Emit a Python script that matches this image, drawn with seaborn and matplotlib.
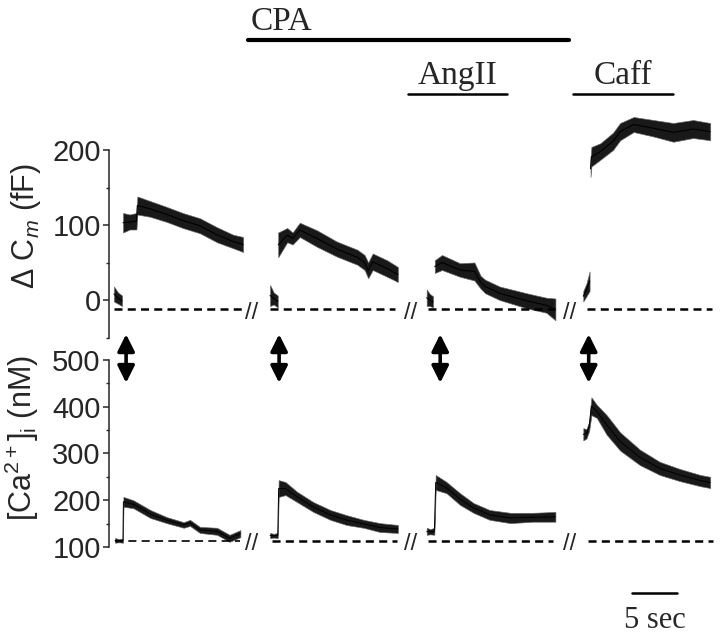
import numpy as np
import pandas as pd
import matplotlib
matplotlib.use("Agg")
import matplotlib.pyplot as plt
import matplotlib.transforms as mtransforms
from matplotlib.patches import FancyArrowPatch
import seaborn as sns

# ---- data (time in s, envelope low/high of the noisy trace) ----
# capacitance, fF  (baseline pieces and responses are drawn apart)
cm_base_t = [[0.55, 1.0, 1.45], [17.9, 18.3, 18.75], [35.3, 35.65, 36.0], [52.7, 53.05, 53.4]]
cm_base_lo = [[-2, -5, -8], [-8, -6, -10], [-8, -8, -10], [-2, 5, 12]]
cm_base_hi = [[18, 10, 6], [20, 10, 6], [14, 8, 5], [12, 22, 38]]

cm1_t = [1.56, 2.3, 3.05, 3.15, 4.56, 6.44, 8.2, 10.1, 12.0, 13.8, 14.9]
cm1_lo = [90, 94, 94, 114, 111, 104, 96, 89, 77, 69, 64]
cm1_hi = [116, 114, 116, 138, 132, 124, 116, 109, 97, 87, 84]
cm2_t = [18.8, 19.8, 20.4, 21.2, 23.1, 25.3, 27.6, 28.4, 28.8, 29.3, 30.9, 32.1]
cm2_lo = [57, 77, 74, 84, 71, 58, 47, 40, 29, 40, 31, 24]
cm2_hi = [90, 96, 90, 103, 93, 78, 67, 60, 50, 62, 53, 44]
cm3_t = [36.2, 37.0, 39.0, 40.6, 41.3, 41.8, 43.4, 46.4, 48.6, 49.6]
cm3_lo = [36, 40, 31, 26, 15, 9, 0, -11, -17, -27]
cm3_hi = [53, 60, 49, 50, 32, 27, 18, 9, 3, 2]
cm4_t = [53.5, 53.6, 54.6, 56.0, 56.8, 58.3, 60.5, 62.7, 64.9, 66.8]
cm4_lo = [164, 178, 187, 200, 213, 224, 218, 211, 216, 213]
cm4_hi = [186, 204, 209, 223, 236, 244, 240, 236, 240, 236]

# [Ca2+]i, nM  (baseline + jump + decay as one piece)
ca1_t = [0.67, 1.1, 1.55, 1.6, 2.7, 4.6, 6.4, 8.3, 9.0, 10.1, 12.0, 13.4, 14.6]
ca1_lo = [109, 110, 109, 186, 183, 162, 151, 141, 145, 130, 126, 111, 121]
ca1_hi = [119, 117, 118, 207, 200, 179, 164, 153, 158, 143, 141, 126, 136]
ca2_t = [17.9, 18.3, 18.75, 18.85, 19.6, 20.9, 22.7, 24.6, 26.4, 28.3, 30.1, 32.1]
ca2_lo = [119, 120, 119, 207, 211, 196, 175, 158, 147, 141, 132, 130]
ca2_hi = [130, 128, 130, 243, 239, 218, 196, 179, 168, 158, 151, 147]
ca3_t = [35.3, 35.7, 36.15, 36.3, 37.5, 39.0, 40.5, 42.3, 44.6, 47.1, 49.6]
ca3_lo = [126, 127, 126, 222, 215, 190, 173, 158, 151, 154, 154]
ca3_hi = [141, 138, 141, 254, 239, 215, 194, 179, 173, 173, 175]
ca4_t = [52.7, 53.05, 53.35, 53.6, 54.2, 55.3, 56.8, 59.0, 61.2, 63.4, 65.7, 66.8]
ca4_lo = [328, 332, 348, 382, 376, 340, 306, 275, 254, 241, 230, 226]
ca4_hi = [354, 352, 368, 420, 404, 382, 345, 308, 282, 267, 254, 250]

# baselines (dashed) and segment extents
cm_baseline = -12
ca_baseline = 113
cm_dash_start = [0.56, 17.9, 35.4, 53.1]
cm_dash_end = [15.1, 31.8, 49.6, 67.0]
ca_dash_start = [0.67, 18.1, 35.4, 53.2]
ca_dash_end = [14.6, 32.0, 49.3, 67.1]
break_t = [15.9, 33.5, 51.2]
arrow_t = [1.9, 18.9, 36.8, 53.3]

# treatments
drug_names = ["CPA", "AngII", "Caff"]
drug_start = [15.4, 33.2, 51.6]
drug_end = [51.1, 44.2, 62.7]

# ---------------------------------------------------------------------------
sns.set_theme(style="ticks")
plt.rcParams["font.family"] = ["Liberation Sans", "DejaVu Sans"]
plt.rcParams["mathtext.fontset"] = "custom"
plt.rcParams["mathtext.rm"] = "Liberation Sans"
plt.rcParams["mathtext.it"] = "Liberation Sans:italic"

W, H = 720, 635
fig = plt.figure(figsize=(W / 100, H / 100), dpi=100)
left = 109 / W
width = (W - 109) / W
ax_cm = fig.add_axes([left, (H - 337.5) / H, width, 225 / H])
ax_ca = fig.add_axes([left, (H - 549.3) / H, width, 217.4 / H])
for a in (ax_cm, ax_ca):
    a.patch.set_alpha(0)
    a.set_xlim(0, 611 / 9)
ax_cm.set_ylim(-50, 250)
ax_ca.set_ylim(95, 560)


def trace(ax, t, lo, hi, lw=0.8, alpha=0.9):
    df = pd.DataFrame({"t": list(t) + list(t), "v": list(lo) + list(hi)})
    sns.lineplot(data=df, x="t", y="v", ax=ax, color="black", lw=lw,
                 estimator="mean", errorbar=lambda v: (v.min(), v.max()),
                 err_kws={"alpha": alpha, "linewidth": 0.5, "edgecolor": "0.4"})


for t, lo, hi in zip(cm_base_t, cm_base_lo, cm_base_hi):
    trace(ax_cm, t, lo, hi)
for t, lo, hi in [(cm1_t, cm1_lo, cm1_hi), (cm2_t, cm2_lo, cm2_hi),
                  (cm3_t, cm3_lo, cm3_hi), (cm4_t, cm4_lo, cm4_hi)]:
    trace(ax_cm, t, lo, hi)
for t, lo, hi in [(ca1_t, ca1_lo, ca1_hi), (ca2_t, ca2_lo, ca2_hi),
                  (ca3_t, ca3_lo, ca3_hi), (ca4_t, ca4_lo, ca4_hi)]:
    trace(ax_ca, t, lo, hi, lw=0.7)

# dashed baselines
for s, e in zip(cm_dash_start, cm_dash_end):
    ax_cm.plot([s, e], [cm_baseline] * 2, color="black", lw=1.8,
               ls=(0, (3.2, 2.1)), clip_on=False)
for i, (s, e) in enumerate(zip(ca_dash_start, ca_dash_end)):
    lw = 1.2 if i == 0 else 1.8
    ax_ca.plot([s, e], [ca_baseline] * 2, color="black", lw=lw,
               ls=(0, (5.8 / lw, 3.8 / lw)), clip_on=False)

# break marks
for bt in break_t:
    ax_cm.text(bt, cm_baseline - 5, "//", ha="center", va="center", fontsize=17)
    ax_ca.text(bt, ca_baseline - 6, "//", ha="center", va="center", fontsize=17)

# double arrows between the panels
for at in arrow_t:
    ar = FancyArrowPatch((at, 555), (at, 451),
                         arrowstyle="<|-|>,head_length=0.6,head_width=0.3",
                         mutation_scale=17, lw=2.6, color="black",
                         shrinkA=0, shrinkB=0, clip_on=False)
    ax_ca.add_patch(ar)

# axes styling
for a, lo_b, hi_b, major, minor in [(ax_cm, -50, 200, [0, 100, 200], [-50, 50, 150]),
                                     (ax_ca, 100, 500, [100, 200, 300, 400, 500],
                                      [150, 250, 350, 450])]:
    sns.despine(ax=a, bottom=True)
    a.spines["left"].set_bounds(lo_b, hi_b)
    a.spines["left"].set_linewidth(1.1)
    a.set_yticks(major)
    a.set_yticks(minor, minor=True)
    a.tick_params(axis="y", which="major", length=4, width=1.1, labelsize=21, pad=2)
    a.tick_params(axis="y", which="minor", length=2.2, width=1.0)
    a.set_xticks([])
    a.set_xlabel("")
    a.set_ylabel("")

fig.text(26 / W, 1 - 226 / H, "Δ C$_m$ (fF)", rotation=90, ha="center",
         va="center", fontsize=22)
fig.text(22 / W, 1 - 438 / H, "[Ca$^{2+}$]$_\\mathrm{i}$ (nM)", rotation=90,
         ha="center", va="center", fontsize=22)

# treatment bars on top
tr = mtransforms.blended_transform_factory(ax_cm.transData, fig.transFigure)
bar_y = [1 - 40 / H, 1 - 94 / H, 1 - 94 / H]
bar_lw = [3.0, 1.8, 1.8]
for name, s, e, by, blw in zip(drug_names, drug_start, drug_end, bar_y, bar_lw):
    fig.add_artist(plt.Line2D([s, e], [by, by], transform=tr, color="black", lw=blw))
    if name == "CPA":
        fig.text(s + 0.3, 1 - 22 / H, name, transform=tr, ha="left", va="center",
                 fontsize=24, family="Liberation Serif")
    else:
        fig.text((s + e) / 2, 1 - 76 / H, name, transform=tr, ha="center",
                 va="center", fontsize=24, family="Liberation Serif")

# 5 s scale bar
tb = mtransforms.blended_transform_factory(ax_ca.transData, fig.transFigure)
fig.add_artist(plt.Line2D([58.1, 63.1], [1 - 593 / H] * 2, transform=tb,
                          color="black", lw=1.8))
fig.text(60.6, 1 - 620 / H, "5 sec", transform=tb, ha="center", va="center",
         fontsize=22, family="Liberation Serif")

fig.savefig("out.png", dpi=100)
